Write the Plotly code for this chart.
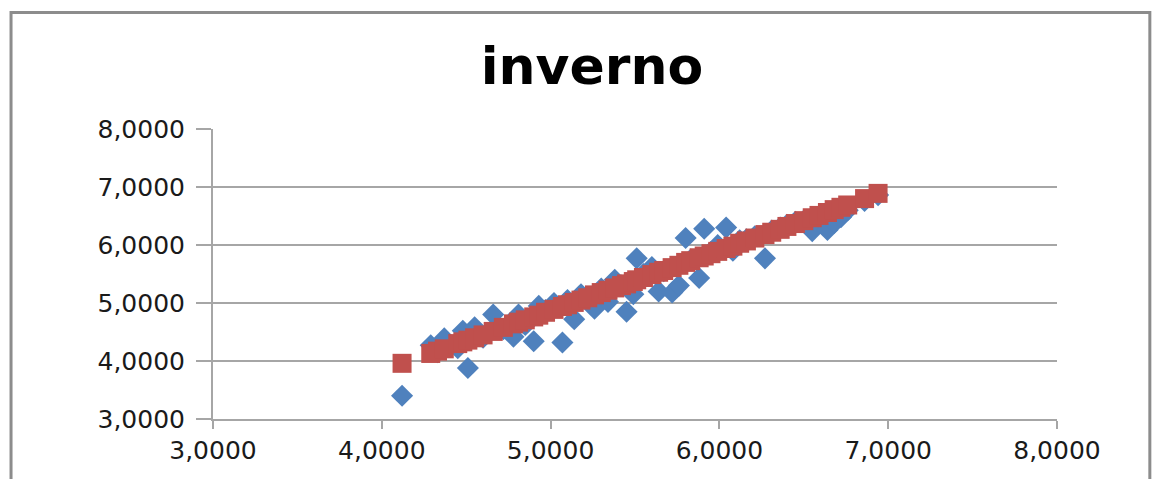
import plotly.graph_objects as go

title_text = "inverno"
tick_vals = [3, 4, 5, 6, 7, 8]
tick_text = ["3,0000", "4,0000", "5,0000", "6,0000", "7,0000", "8,0000"]

x_vals = [4.12, 4.29, 4.33, 4.37, 4.45, 4.48, 4.51, 4.55, 4.60, 4.66,
          4.72, 4.78, 4.81, 4.85, 4.90, 4.93, 4.97, 5.02, 5.07, 5.10,
          5.14, 5.18, 5.22, 5.26, 5.30, 5.34, 5.38, 5.42, 5.45, 5.49,
          5.51, 5.55, 5.60, 5.64, 5.67, 5.72, 5.76, 5.80, 5.83, 5.88,
          5.91, 5.95, 5.99, 6.04, 6.08, 6.12, 6.16, 6.21, 6.27, 6.31,
          6.36, 6.40, 6.45, 6.50, 6.55, 6.59, 6.64, 6.68, 6.72, 6.76,
          6.86, 6.94]

observed = [3.40, 4.27, 4.15, 4.39, 4.22, 4.52, 3.88, 4.58, 4.40, 4.80,
            4.55, 4.42, 4.80, 4.62, 4.34, 4.95, 4.88, 5.00, 4.32, 5.05,
            4.72, 5.15, 5.10, 4.90, 5.25, 5.02, 5.40, 5.30, 4.85, 5.15,
            5.77, 5.50, 5.62, 5.20, 5.55, 5.18, 5.30, 6.12, 5.75, 5.43,
            6.28, 5.88, 6.00, 6.30, 5.90, 6.08, 6.10, 6.15, 5.77, 6.25,
            6.30, 6.35, 6.40, 6.42, 6.24, 6.48, 6.26, 6.38, 6.48, 6.60,
            6.76, 6.86]

predicted = [3.96, 4.13, 4.17, 4.21, 4.30, 4.33, 4.36, 4.40, 4.45, 4.51,
             4.58, 4.64, 4.67, 4.71, 4.76, 4.79, 4.84, 4.89, 4.94, 4.97,
             5.01, 5.05, 5.09, 5.14, 5.18, 5.22, 5.26, 5.30, 5.33, 5.37,
             5.40, 5.44, 5.49, 5.53, 5.56, 5.61, 5.65, 5.70, 5.73, 5.78,
             5.81, 5.85, 5.89, 5.94, 5.98, 6.03, 6.07, 6.12, 6.18, 6.22,
             6.27, 6.32, 6.37, 6.42, 6.47, 6.51, 6.56, 6.61, 6.65, 6.69,
             6.80, 6.89]

fig = go.Figure()
fig.add_trace(go.Scatter(
    x=x_vals, y=observed, mode="markers", name="observed",
    marker=dict(symbol="diamond", size=17, color="#4F81BD", line=dict(width=0)),
))
fig.add_trace(go.Scatter(
    x=x_vals, y=predicted, mode="markers", name="predicted",
    marker=dict(symbol="square", size=19, color="#C0504D", line=dict(width=0)),
))

tick_font = dict(family="DejaVu Sans", size=25, color="#1a1a1a")

fig.update_layout(
    width=1163, height=479,
    margin=dict(l=213, r=106, t=129, b=60),
    paper_bgcolor="white", plot_bgcolor="white",
    showlegend=False,
    title=dict(text="<b>" + title_text + "</b>", x=0.509, xref="container",
               xanchor="center", y=1 - 66 / 479, yref="container", yanchor="middle",
               font=dict(family="DejaVu Sans", size=52, color="#000000")),
    xaxis=dict(range=[3, 8], tickvals=tick_vals, ticktext=tick_text,
               showgrid=False, zeroline=False, showline=True, linecolor="#a6a6a6",
               linewidth=2, ticks="outside", ticklen=8, tickcolor="#a6a6a6",
               tickwidth=2, tickfont=tick_font),
    yaxis=dict(range=[3, 8], tickvals=tick_vals, ticktext=tick_text,
               showgrid=True, gridcolor="#a6a6a6", gridwidth=2, zeroline=False,
               showline=True, linecolor="#a6a6a6", linewidth=2,
               ticks="outside", ticklen=15, tickcolor="#a6a6a6", tickwidth=2,
               ticklabelstandoff=6, tickfont=tick_font),
    shapes=[dict(type="rect", xref="paper", yref="paper",
                 x0=-0.2393, x1=1.110, y0=-0.3, y1=1.4015,
                 line=dict(color="#8c8c8c", width=3), fillcolor="rgba(0,0,0,0)",
                 layer="below")],
)

fig.write_html("out.html", config={"displayModeBar": False})

with open("out.html", "r", encoding="utf-8") as f:
    html = f.read()
html = html.replace("<head>", "<head><style>html,body{margin:0;padding:0;overflow:hidden;}</style>", 1)
with open("out.html", "w", encoding="utf-8") as f:
    f.write(html)
